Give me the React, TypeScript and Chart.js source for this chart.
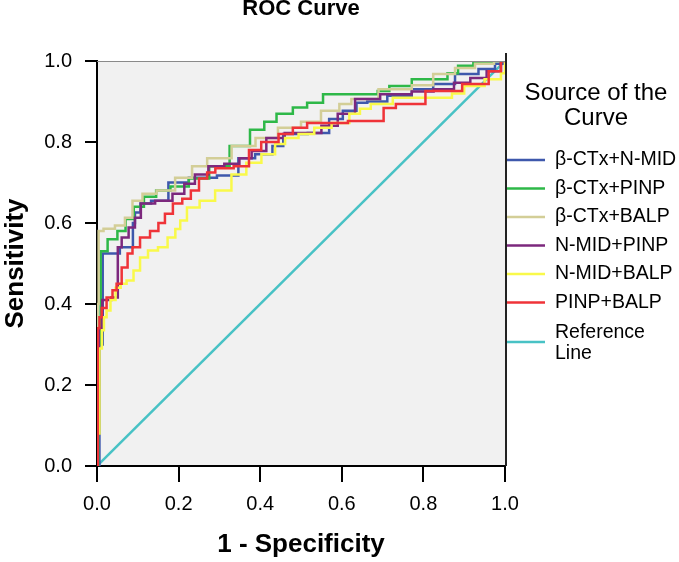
import { useEffect, useRef } from 'react';
import { Chart, registerables } from 'chart.js';

Chart.register(...registerables);

const FONT = '"Liberation Sans", Arial, Helvetica, sans-serif';

const chartTitle = 'ROC Curve';
const xAxisTitle = '1 - Specificity';
const yAxisTitle = 'Sensitivity';
const legendTitle = ['Source of the', 'Curve'];
const tickValues = [0, 0.2, 0.4, 0.6, 0.8, 1.0];

const seriesNames = ['β-CTx+N-MID', 'β-CTx+PINP', 'β-CTx+BALP', 'N-MID+PINP', 'N-MID+BALP', 'PINP+BALP'];
const referenceName = ['Reference', 'Line'];
const seriesColors = ['#3e58ac', '#2eb848', '#d3ce97', '#7c287d', '#f9f94a', '#ef3338'];
const referenceColor = '#48c2c5';

const bctxNmidFpr = [0, 0.012, 0.016, 0.056, 0.056, 0.088, 0.088, 0.098, 0.115, 0.15, 0.2, 0.25, 0.338, 0.355, 0.42, 0.44, 0.473, 0.56, 0.578, 0.627, 0.645, 0.68, 0.743, 0.8, 0.848, 0.907, 0.963, 0.988, 1];
const bctxNmidTpr = [0, 0.3, 0.525, 0.525, 0.54, 0.54, 0.6, 0.626, 0.648, 0.655, 0.7, 0.712, 0.717, 0.76, 0.77, 0.79, 0.82, 0.822, 0.857, 0.877, 0.897, 0.9, 0.914, 0.93, 0.943, 0.968, 0.98, 0.993, 1];

const bctxPinpFpr = [0, 0.006, 0.012, 0.04, 0.06, 0.08, 0.1, 0.13, 0.16, 0.2, 0.25, 0.3, 0.35, 0.4, 0.42, 0.46, 0.5, 0.53, 0.578, 0.686, 0.69, 0.743, 0.8, 0.848, 0.87, 0.9, 0.945, 1];
const bctxPinpTpr = [0, 0.3, 0.53, 0.56, 0.58, 0.61, 0.64, 0.665, 0.68, 0.69, 0.71, 0.74, 0.79, 0.83, 0.85, 0.87, 0.885, 0.897, 0.918, 0.918, 0.926, 0.938, 0.955, 0.955, 0.97, 0.988, 0.995, 1];

const bctxBalpFpr = [0, 0.003, 0.005, 0.027, 0.061, 0.076, 0.098, 0.125, 0.167, 0.216, 0.25, 0.29, 0.37, 0.407, 0.48, 0.52, 0.578, 0.61, 0.637, 0.743, 0.8, 0.848, 0.907, 0.946, 1];
const bctxBalpTpr = [0, 0.4, 0.58, 0.586, 0.594, 0.613, 0.655, 0.672, 0.68, 0.712, 0.74, 0.76, 0.79, 0.81, 0.835, 0.85, 0.877, 0.894, 0.906, 0.93, 0.94, 0.968, 0.983, 0.993, 1];

const nmidPinpFpr = [0, 0.003, 0.006, 0.02, 0.05, 0.052, 0.069, 0.086, 0.1, 0.115, 0.17, 0.2, 0.228, 0.252, 0.294, 0.33, 0.368, 0.39, 0.44, 0.48, 0.54, 0.56, 0.62, 0.645, 0.743, 0.8, 0.85, 0.9, 0.93, 0.98, 1];
const nmidPinpTpr = [0, 0.2, 0.34, 0.41, 0.416, 0.54, 0.564, 0.589, 0.613, 0.648, 0.655, 0.672, 0.697, 0.72, 0.74, 0.746, 0.76, 0.778, 0.81, 0.822, 0.822, 0.84, 0.87, 0.906, 0.918, 0.925, 0.93, 0.946, 0.958, 0.975, 1];

const nmidBalpFpr = [0, 0.002, 0.01, 0.014, 0.02, 0.027, 0.039, 0.052, 0.064, 0.081, 0.098, 0.113, 0.137, 0.162, 0.184, 0.2, 0.208, 0.233, 0.27, 0.309, 0.35, 0.382, 0.424, 0.449, 0.473, 0.515, 0.55, 0.6, 0.637, 0.652, 0.69, 0.76, 0.86, 0.88, 0.92, 0.98, 1, 1];
const nmidBalpTpr = [0, 0.08, 0.29, 0.335, 0.367, 0.384, 0.41, 0.44, 0.45, 0.458, 0.483, 0.515, 0.532, 0.54, 0.564, 0.585, 0.606, 0.638, 0.655, 0.68, 0.72, 0.749, 0.77, 0.795, 0.81, 0.82, 0.835, 0.847, 0.87, 0.882, 0.894, 0.909, 0.909, 0.92, 0.938, 0.955, 0.97, 1];

const pinpBalpFpr = [0, 0.004, 0.008, 0.015, 0.032, 0.044, 0.052, 0.069, 0.081, 0.093, 0.118, 0.142, 0.159, 0.174, 0.198, 0.22, 0.24, 0.26, 0.28, 0.3, 0.37, 0.375, 0.43, 0.46, 0.5, 0.53, 0.7, 0.705, 0.76, 0.85, 0.94, 0.98, 1];
const pinpBalpTpr = [0, 0.34, 0.367, 0.39, 0.416, 0.434, 0.45, 0.49, 0.525, 0.54, 0.564, 0.58, 0.6, 0.623, 0.648, 0.66, 0.68, 0.71, 0.725, 0.735, 0.74, 0.78, 0.8, 0.82, 0.835, 0.847, 0.852, 0.884, 0.894, 0.926, 0.943, 0.975, 1];

const referenceFpr = [0, 1];
const referenceTpr = [0, 1];

const seriesFpr = [bctxNmidFpr, bctxPinpFpr, bctxBalpFpr, nmidPinpFpr, nmidBalpFpr, pinpBalpFpr];
const seriesTpr = [bctxNmidTpr, bctxPinpTpr, bctxBalpTpr, nmidPinpTpr, nmidBalpTpr, pinpBalpTpr];

const framePlugin = {
  id: 'frame',
  beforeDraw(chart: any) {
    const { ctx, chartArea: a } = chart;
    ctx.save();
    ctx.fillStyle = '#f1f1f1';
    ctx.fillRect(a.left, a.top, a.right - a.left, a.bottom - a.top);
    ctx.restore();
  },
  afterDraw(chart: any) {
    const { ctx, chartArea: a } = chart;
    ctx.save();
    ctx.strokeStyle = '#8a8a8a';
    ctx.lineWidth = 1;
    ctx.beginPath();
    ctx.moveTo(a.left, a.top + 0.5);
    ctx.lineTo(a.right, a.top + 0.5);
    ctx.stroke();
    ctx.strokeStyle = '#222';
    ctx.lineWidth = 2;
    ctx.beginPath();
    ctx.moveTo(a.right + 1, a.top - 8);
    ctx.lineTo(a.right + 1, a.bottom);
    ctx.stroke();

    ctx.fillStyle = '#000';
    ctx.textAlign = 'center';
    ctx.textBaseline = 'alphabetic';
    ctx.font = `bold 22px ${FONT}`;
    ctx.fillText(chartTitle, (a.left + a.right) / 2, 15);

    const cx = a.right + 91;
    ctx.font = `24px ${FONT}`;
    ctx.textBaseline = 'middle';
    ctx.fillText(legendTitle[0], cx, a.top + 32);
    ctx.fillText(legendTitle[1], cx, a.top + 57);

    ctx.font = `19.5px ${FONT}`;
    ctx.textAlign = 'left';
    const sx0 = a.right + 2;
    const sx1 = a.right + 40;
    const tx = a.right + 50;
    seriesNames.forEach((name, i) => {
      const y = a.top + 99 + i * 28.5;
      ctx.strokeStyle = seriesColors[i];
      ctx.lineWidth = 2.5;
      ctx.beginPath();
      ctx.moveTo(sx0, y);
      ctx.lineTo(sx1, y);
      ctx.stroke();
      ctx.fillText(name, tx, y);
    });
    const ry = a.top + 281;
    ctx.strokeStyle = referenceColor;
    ctx.lineWidth = 2.5;
    ctx.beginPath();
    ctx.moveTo(sx0, ry);
    ctx.lineTo(sx1, ry);
    ctx.stroke();
    ctx.fillText(referenceName[0], tx, ry - 9);
    ctx.fillText(referenceName[1], tx, ry + 12);
    ctx.restore();
  },
};

export default function App() {
  const canvasRef = useRef<HTMLCanvasElement | null>(null);

  useEffect(() => {
    const canvas = canvasRef.current;
    if (!canvas) return;
    const orders = [6, 5, 4, 3, 2, 1];
    const datasets: any[] = seriesNames.map((name, i) => ({
      label: name,
      data: seriesFpr[i].map((x, j) => ({ x, y: seriesTpr[i][j] })),
      borderColor: seriesColors[i],
      backgroundColor: seriesColors[i],
      borderWidth: 2.5,
      pointRadius: 0,
      stepped: 'middle',
      fill: false,
      order: orders[i],
    }));
    datasets.push({
      label: referenceName.join(' '),
      data: referenceFpr.map((x, j) => ({ x, y: referenceTpr[j] })),
      borderColor: referenceColor,
      backgroundColor: referenceColor,
      borderWidth: 2.5,
      pointRadius: 0,
      fill: false,
      order: 7,
    });

    const tickFont = { family: FONT, size: 20 };
    const titleFont = { family: FONT, size: 26, weight: 'bold' as const };

    const chart = new Chart(canvas, {
      type: 'line',
      data: { datasets },
      options: {
        responsive: false,
        animation: false,
        devicePixelRatio: 1,
        layout: { padding: { left: 0, right: 174, top: 61, bottom: 0 } },
        plugins: {
          legend: { display: false },
          tooltip: { enabled: false },
          title: { display: false },
        },
        scales: {
          x: {
            type: 'linear',
            min: 0,
            max: 1,
            afterBuildTicks: (s: any) => {
              s.ticks = tickValues.map((v) => ({ value: v }));
            },
            afterFit: (s: any) => {
              s.height = 96;
            },
            ticks: {
              font: tickFont,
              color: '#000',
              padding: 10,
              maxRotation: 0,
              autoSkip: false,
              callback: (v: any) => Number(v).toFixed(1),
            },
            grid: { drawOnChartArea: false, drawTicks: true, tickLength: 16, color: '#000', lineWidth: 2 },
            border: { display: true, color: '#000', width: 2 },
            title: { display: true, text: xAxisTitle, color: '#000', font: titleFont, padding: { top: 0, bottom: 2 } },
          },
          y: {
            type: 'linear',
            min: 0,
            max: 1,
            afterBuildTicks: (s: any) => {
              s.ticks = tickValues.map((v) => ({ value: v }));
            },
            afterFit: (s: any) => {
              s.width = 97;
            },
            ticks: {
              font: tickFont,
              color: '#000',
              padding: 13,
              autoSkip: false,
              callback: (v: any) => Number(v).toFixed(1),
            },
            grid: { drawOnChartArea: false, drawTicks: true, tickLength: 12, color: '#000', lineWidth: 2 },
            border: { display: true, color: '#000', width: 2 },
            title: { display: true, text: yAxisTitle, color: '#000', font: titleFont, padding: { top: 0, bottom: 0 } },
          },
        },
      },
      plugins: [framePlugin],
    });
    return () => chart.destroy();
  }, []);

  return (
    <div style={{ position: 'absolute', left: 0, top: 0, width: 679, height: 562, background: '#fff' }}>
      <canvas ref={canvasRef} width={679} height={562} style={{ display: 'block' }} />
    </div>
  );
}
